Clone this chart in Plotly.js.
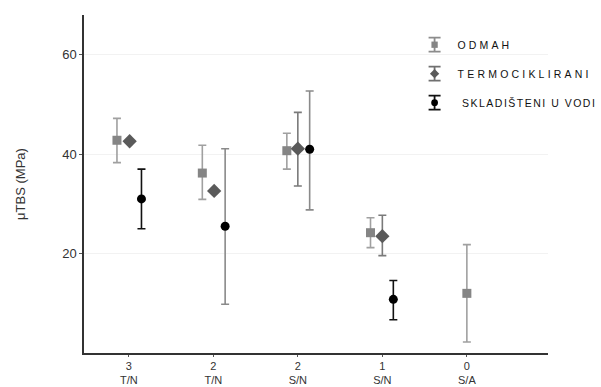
<!DOCTYPE html>
<html>
<head>
<meta charset="utf-8">
<script src="https://cdn.plot.ly/plotly-3.0.1.min.js"></script>
<style>html,body{margin:0;padding:0;background:#fff;}#chart{width:601px;height:387px;}</style>
</head>
<body>
<div id="chart"></div>
<script>
// ---- data ----
const tickTop = ['3', '2', '2', '1', '0'];
const tickBottom = ['T/N', 'T/N', 'S/N', 'S/N', 'S/A'];
const seriesNames = ['ODMAH', 'TERMOCIKLIRANI', ' SKLADIŠTENI U VODI'];

const odmahMean = [42.8, 36.2, 40.7, 24.2, 12.0];
const odmahHigh = [47.2, 41.8, 44.2, 27.2, 21.8];
const odmahLow  = [38.3, 30.9, 37.0, 21.2, 2.2];

const termoMean = [42.6, 32.6, 41.1, 23.5, null];
const termoHigh = [null, null, 48.4, 27.7, null];
const termoLow  = [null, null, 33.6, 19.6, null];

const vodaMean = [31.0, 25.5, 41.0, 10.8, null];
const vodaHigh = [37.0, 41.1, 52.7, 14.6, null];
const vodaLow  = [25.0, 9.8, 28.8, 6.7, null];

// ---- styling (positions/offsets) ----
const offsets = [
  [-0.14, -0.13, -0.13, -0.14, 0],
  [0.01, 0.01, 0.0, 0.0, 0],
  [0.15, 0.14, 0.14, 0.13, 0]
];
const vodaErrColor = ['#111', '#8a8a8a', '#8a8a8a', '#111', '#111'];
const legendBarColor = ['#8c8c8c', '#707070', '#111'];
const legendSpacing = ['3.1px', '3.2px', '1.5px'];
const legendMarkerScale = [0.7, 0.65, 0.75];

const idx = tickTop.map((_, i) => i);
function xs(k) { return idx.map(i => i + offsets[k][i]); }
function plus(m, h) { return m.map((v, i) => (v == null || h[i] == null) ? null : h[i] - v); }
function minus(m, l) { return m.map((v, i) => (v == null || l[i] == null) ? null : v - l[i]); }

const traces = [];
traces.push({
  type: 'scatter', mode: 'markers', name: seriesNames[0], legendgroup: 'a',
  x: xs(0), y: odmahMean,
  marker: {symbol: 'square', size: 9, color: '#858585'},
  error_y: {type: 'data', symmetric: false, array: plus(odmahMean, odmahHigh), arrayminus: minus(odmahMean, odmahLow), color: '#a0a0a0', thickness: 1.6, width: 4}
});
traces.push({
  type: 'scatter', mode: 'markers', name: seriesNames[1], legendgroup: 'b',
  x: xs(1), y: termoMean,
  marker: {symbol: 'diamond', size: 11, color: '#5a5a5a'},
  error_y: {type: 'data', symmetric: false, array: plus(termoMean, termoHigh), arrayminus: minus(termoMean, termoLow), color: '#7a7a7a', thickness: 1.6, width: 4}
});
// split the third series by error-bar colour
const colors = [...new Set(vodaErrColor)];
colors.forEach((c, ci) => {
  const keep = idx.filter(i => vodaErrColor[i] === c && vodaMean[i] != null);
  traces.push({
    type: 'scatter', mode: 'markers', name: seriesNames[2], legendgroup: 'c', showlegend: ci === 0,
    x: keep.map(i => i + offsets[2][i]), y: keep.map(i => vodaMean[i]),
    marker: {symbol: 'circle', size: 9, color: '#000'},
    error_y: {type: 'data', symmetric: false,
      array: keep.map(i => vodaHigh[i] - vodaMean[i]),
      arrayminus: keep.map(i => vodaMean[i] - vodaLow[i]),
      color: c, thickness: 1.6, width: 4}
  });
});

const layout = {
  width: 601, height: 387,
  margin: {l: 84, r: 53, t: 15, b: 34},
  paper_bgcolor: '#fff', plot_bgcolor: '#fff',
  font: {family: 'Liberation Sans, Arial, sans-serif', color: '#222'},
  showlegend: true,
  legend: {x: 0.706, y: 0.955, xanchor: 'left', yanchor: 'top', tracegroupgap: 10, itemwidth: 36,
    font: {family: 'Liberation Sans, Arial, sans-serif', size: 10.5, color: '#111'}, bgcolor: 'rgba(0,0,0,0)'},
  xaxis: {
    range: [-0.53, 4.96], tickmode: 'array', tickvals: idx,
    ticktext: idx.map(i => tickTop[i] + '<br>' + tickBottom[i]),
    tickfont: {size: 11, color: '#333'},
    showline: true, linecolor: '#333', linewidth: 1.6,
    ticks: 'outside', ticklen: 2, tickcolor: '#555', showgrid: false, zeroline: false
  },
  yaxis: {
    range: [0, 68], tickvals: [20, 40, 60],
    tickfont: {size: 13, color: '#333'},
    showline: true, linecolor: '#333', linewidth: 1.6,
    ticks: 'outside', ticklen: 3, tickcolor: '#555',
    showgrid: true, gridcolor: '#f2f2f2', zeroline: false,
    title: {text: 'μTBS (MPa)', font: {size: 13, color: '#333'}, standoff: 34}
  }
};

Plotly.newPlot('chart', traces, layout, {displayModeBar: false, staticPlot: true}).then(gd => {
  const NS = 'http://www.w3.org/2000/svg';
  gd.querySelectorAll('.legend [clip-path]').forEach(e => e.removeAttribute('clip-path'));
  gd.querySelectorAll('.legend .traces').forEach((g, k) => {
    const txt = g.querySelector('.legendtext');
    if (txt) txt.style.letterSpacing = legendSpacing[k] || '2px';
    const pts = g.querySelector('.legendpoints');
    if (!pts) return;
    const mk = pts.querySelector('path.scatterpts') || pts.querySelector('path');
    let tx = 20, ty = 0;
    if (mk) {
      const m = /translate\(\s*([-\d.]+)[ ,]+([-\d.]+)\s*\)/.exec(mk.getAttribute('transform') || '');
      if (m) { tx = +m[1]; ty = +m[2]; }
      mk.setAttribute('transform', 'translate(' + tx + ',' + ty + ') scale(' + legendMarkerScale[k] + ')');
    }
    const p = document.createElementNS(NS, 'path');
    p.setAttribute('d', 'M-6,-7H6M0,-7V7M-6,7H6');
    p.setAttribute('transform', 'translate(' + tx + ',' + ty + ')');
    p.setAttribute('stroke', legendBarColor[k] || '#111');
    p.setAttribute('stroke-width', '1.8');
    p.setAttribute('fill', 'none');
    pts.insertBefore(p, pts.firstChild);
  });
});
</script>
</body>
</html>
